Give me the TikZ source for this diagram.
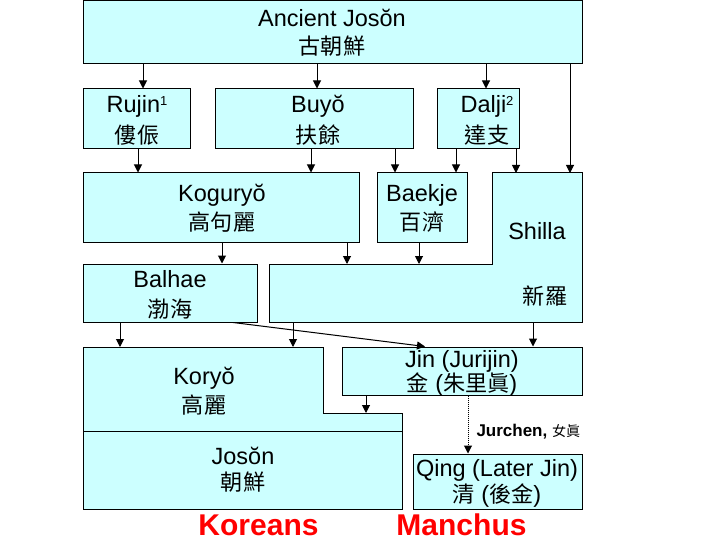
\documentclass[tikz,border=0pt]{standalone}
\usepackage{fontspec}
\setmainfont{Liberation Sans}
\newfontfamily\cjk{Noto Sans CJK TC}[Scale=0.94]
\usetikzlibrary{arrows.meta}
\definecolor{boxcyan}{RGB}{204,255,255}
\newcommand\sups[1]{\raisebox{7pt}{\fontsize{13}{13}\selectfont #1}}

\begin{document}
\begin{tikzpicture}[x=1pt,y=-1pt,line width=1pt,>={Triangle[length=8pt,width=8pt]},
  box/.style={draw,fill=boxcyan,inner sep=0pt},
  lbl/.style={align=center,inner sep=0pt,font=\fontsize{23.5}{28}\selectfont}]
  \useasboundingbox (0,0) rectangle (720,540);
  % rectangular boxes
  \node[box,minimum width=499,minimum height=63] (anc) at (332.5,32) {};
  \node[box,minimum width=107,minimum height=60] (rujin) at (136.5,119) {};
  \node[box,minimum width=198,minimum height=60] (buyo) at (314,119) {};
  \node[box,minimum width=82,minimum height=60] (dalji) at (478,119) {};
  \node[box,minimum width=276,minimum height=69] (kog) at (221,207.5) {};
  \node[box,minimum width=90,minimum height=69] (baekje) at (422,207.5) {};
  \node[box,minimum width=174,minimum height=58] (balhae) at (170,293) {};
  \node[box,minimum width=240,minimum height=48] (jin) at (462,371) {};
  \node[box,minimum width=169,minimum height=55] (qing) at (497.5,481.5) {};
  % Shilla (L shape)
  \coordinate (shTL) at (492,173);
  \coordinate (shTR) at (582,173);
  \coordinate (shBR) at (582,322);
  \coordinate (shBL) at (269,322);
  \coordinate (shML) at (269,264);
  \coordinate (shMM) at (492,264);
  \draw[fill=boxcyan] (shTL) -- (shTR) -- (shBR) -- (shBL) -- (shML) -- (shMM) -- cycle;
  % Koryo / Joson
  \coordinate (kyTL) at (83,347);
  \coordinate (kyTS) at (323,347);
  \coordinate (kyS1) at (323,413);
  \coordinate (kyS2) at (402,413);
  \coordinate (jsBR) at (402,509);
  \coordinate (jsBL) at (83,509);
  \coordinate (jsL) at (83,431);
  \coordinate (jsR) at (402,431);
  \draw[fill=boxcyan] (kyTL) -- (kyTS) -- (kyS1) -- (kyS2) -- (jsBR) -- (jsBL) -- cycle;
  \draw (jsL) -- (jsR);
  % texts
  \node[lbl] (ancT) at (332,33) {Ancient Josŏn\\{\cjk 古朝鮮}};
  \node[lbl] (rujinT) at (137,120) {Rujin\sups{1}\\[3pt]{\cjk 僂侲}};
  \node[lbl] (buyoT) at (318,120) {Buyŏ\\[3pt]{\cjk 扶餘}};
  \node[lbl] (daljiT) at (487,120) {Dalji\sups{2}\\[3pt]{\cjk 達支}};
  \node[lbl] (kogT) at (222,208) {Koguryŏ\\[1pt]{\cjk 高句麗}};
  \node[lbl] (baekjeT) at (422,208) {Baekje\\[1pt]{\cjk 百濟}};
  \node[lbl] (shillaT) at (537,231) {Shilla};
  \node[lbl] (shillaC) at (545,296) {\cjk 新羅};
  \node[lbl] (balhaeT) at (170,295) {Balhae\\[2pt]{\cjk 渤海}};
  \node[lbl] (jinT) at (462,373) {Jin (Jurijin)\\[-4pt]{\cjk 金} ({\cjk 朱里眞})};
  \node[lbl] (koryoT) at (204,391) {Koryŏ\\[1pt]{\cjk 高麗}};
  \node[lbl] (josonT) at (243,470) {Josŏn\\[-2pt]{\cjk 朝鮮}};
  \node[lbl] (qingT) at (497,483) {Qing (Later Jin)\\[-2pt]{\cjk 清} ({\cjk 後金})};
  \node[anchor=base west,inner sep=0pt,font=\fontsize{17}{17}\selectfont\bfseries] (jurchen)
    at (476,436) {Jurchen, {\cjk\mdseries\fontsize{15}{15}\selectfont 女眞}};
  \node[anchor=base,inner sep=0pt,text=red,font=\fontsize{30}{30}\selectfont\bfseries] (koreans)
    at (258.5,535) {Koreans};
  \node[anchor=base,inner sep=0pt,text=red,font=\fontsize{30}{30}\selectfont\bfseries] (manchus)
    at (461.5,535) {Manchus};
  % descent arrows
  \foreach \a/\b/\x in {anc.south/rujin.north/143, anc.south/buyo.north/317,
      anc.south/dalji.north/486, anc.south/shTL/570,
      rujin.south/kog.north/138, buyo.south/kog.north/311,
      buyo.south/baekje.north/395, dalji.south/baekje.north/456,
      dalji.south/shTL/516, kog.south/balhae.north/222,
      kog.south/shML/347, baekje.south/shML/419,
      balhae.south/kyTL/120, shBL/kyTL/293, shBL/jin.north/533,
      jin.south/kyS1/366}
    \draw[->] (\a -| \x,0) -- (\b -| \x,0);
  \draw[->] (balhae.south -| 233,0) -- (jin.north -| 425,0);
  \draw[->,densely dotted] (jin.south -| 468,0) -- (qing.north -| 468,0);
\end{tikzpicture}
\end{document}
